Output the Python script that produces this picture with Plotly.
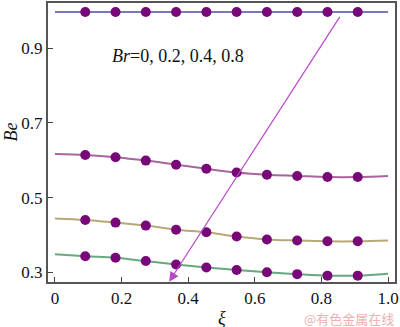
import plotly.graph_objects as go

# Bejan number along the channel for several Brinkman numbers
xi_line = [0, 1/11, 2/11, 3/11, 4/11, 5/11, 6/11, 7/11, 8/11, 9/11, 10/11, 1.0]
xi_pts = xi_line[1:-1]

be_br0 = [0.997] * 12
be_br02 = [0.617, 0.614, 0.608, 0.599, 0.588, 0.577, 0.567, 0.561, 0.558, 0.555, 0.555, 0.558]
be_br04 = [0.444, 0.440, 0.433, 0.425, 0.414, 0.407, 0.396, 0.388, 0.385, 0.383, 0.383, 0.385]
be_br08 = [0.348, 0.343, 0.339, 0.330, 0.321, 0.313, 0.306, 0.300, 0.295, 0.291, 0.291, 0.296]

series = [
    (be_br0, "#7a78b8"),
    (be_br02, "#a8649e"),
    (be_br04, "#b8a878"),
    (be_br08, "#68a880"),
]

x_ticks = [0, 0.2, 0.4, 0.6, 0.8, 1.0]
x_tick_text = ["0", "0.2", "0.4", "0.6", "0.8", "1.0"]
y_ticks = [0.3, 0.5, 0.7, 0.9]
y_tick_text = ["0.3", "0.5", "0.7", "0.9"]

serif = "Liberation Serif, Times New Roman, serif"

fig = go.Figure()
for vals, col in series:
    fig.add_trace(go.Scatter(x=xi_line, y=vals, mode="lines",
                             line=dict(color=col, width=2, shape="spline"),
                             showlegend=False, hoverinfo="skip"))
    fig.add_trace(go.Scatter(x=xi_pts, y=vals[1:-1], mode="markers",
                             marker=dict(color="#780878", size=10,
                                         symbol="circle"),
                             showlegend=False))

# arrow indicating increasing Br
fig.add_annotation(x=0.343, y=0.275, ax=0.858, ay=0.988,
                   xref="x", yref="y", axref="x", ayref="y",
                   showarrow=True, arrowhead=2, arrowsize=1.6,
                   arrowwidth=1.2, arrowcolor="#b848c8", text="")

fig.add_annotation(x=0.165, y=0.878, xref="x", yref="y", xanchor="left",
                   showarrow=False,
                   text="<i>Br</i>=0, 0.2, 0.4, 0.8",
                   font=dict(family=serif, size=18, color="#111111"))

fig.add_annotation(x=-0.106, y=0.537, xref="paper", yref="paper",
                   xanchor="center", yanchor="middle",
                   showarrow=False, text="<i>Be</i>", textangle=-90,
                   font=dict(family=serif, size=18, color="#111111"))
fig.add_annotation(x=0.5, y=-0.128, xref="paper", yref="paper",
                   xanchor="center", yanchor="middle",
                   showarrow=False, text="<i>ξ</i>",
                   font=dict(family=serif, size=18, color="#111111"))
fig.add_annotation(x=1.0, y=-0.13, xref="paper", yref="paper",
                   xanchor="right", yanchor="middle", showarrow=False,
                   borderpad=0,
                   text="@有色金属在线",
                   font=dict(family="Noto Sans CJK SC", size=13,
                             color="#f0b0b0"))

fig.update_layout(
    width=400, height=327,
    margin=dict(l=48, r=2, t=1, b=45),
    paper_bgcolor="white", plot_bgcolor="white",
    font=dict(family=serif, size=17, color="#111111"),
    xaxis=dict(range=[-0.021, 1.021], tickvals=x_ticks, ticktext=x_tick_text,
               ticks="inside", ticklen=5, tickcolor="#444444",
               ticklabeloverflow="allow",
               showgrid=False, zeroline=False, showline=True, mirror=True,
               linecolor="#555555", linewidth=2),
    yaxis=dict(range=[0.274, 1.021], tickvals=y_ticks, ticktext=y_tick_text,
               ticks="inside", ticklen=5, tickcolor="#444444",
               showgrid=False, zeroline=False, showline=True, mirror=True,
               linecolor="#555555", linewidth=2),
)

fig.write_html("out.html")
